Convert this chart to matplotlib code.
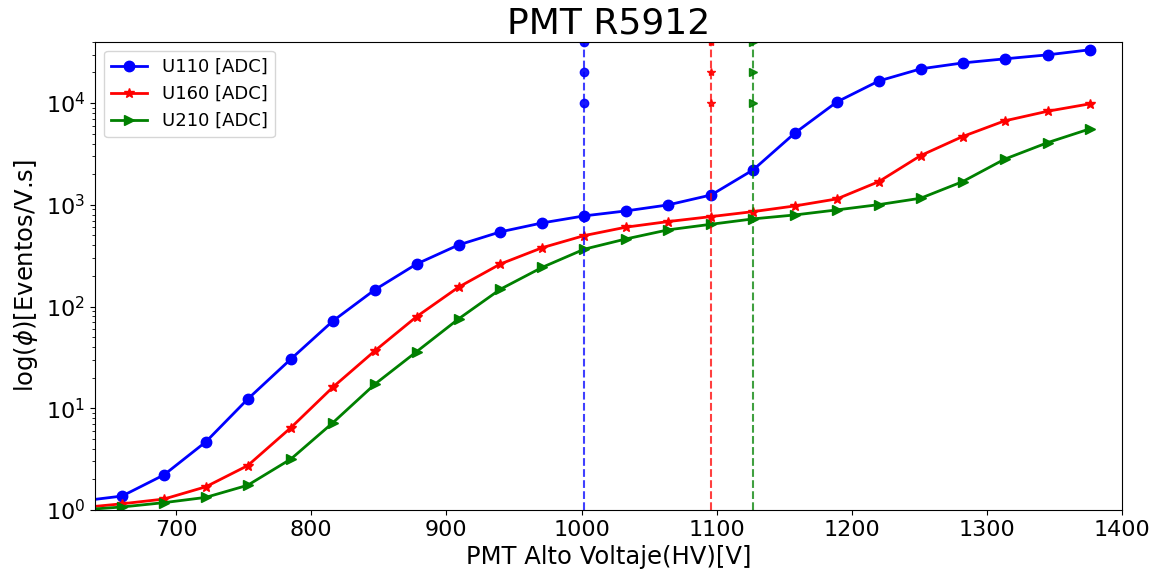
#plateau curves for the PMT R5912 at three thresholds
import matplotlib
matplotlib.use('Agg')
import matplotlib.pyplot as plt

# high voltage steps (first point sits just outside the x range)
hv = [629, 660, 691, 722, 753, 785, 816, 847, 878, 909, 940, 971, 1002,
      1033, 1064, 1096, 1127, 1158, 1189, 1220, 1251, 1282, 1313, 1345, 1376]

# rates for each threshold
u110 = [1.22, 1.37, 2.21, 4.67, 12.3, 30.5, 72, 146, 262, 403, 542, 664, 778,
        871, 997, 1250, 2205, 5090, 10270, 16500, 21700, 24800, 27200, 29800, 33400]
u160 = [1.05, 1.15, 1.28, 1.69, 2.73, 6.45, 16.1, 36.6, 79.6, 155, 262, 379, 498,
        603, 684, 766, 857, 975, 1143, 1690, 3050, 4690, 6680, 8320, 9820]
u210 = [1.0, 1.07, 1.18, 1.33, 1.75, 3.17, 7.2, 17.2, 36, 75.5, 148, 243, 366,
        462, 567, 644, 727, 795, 891, 1004, 1161, 1690, 2806, 4090, 5570]

labels = ['U110 [ADC]', 'U160 [ADC]', 'U210 [ADC]']

# chosen working points (vertical markers)
cut_hv = [1002, 1096, 1127]
cut_marks = [1e4, 2e4, 4e4]

colors = ['b', 'r', 'g']
markers = ['o', '*', '>']

fig = plt.figure(figsize=(11.64, 5.73), dpi=100)
ax = fig.add_axes([0.0816, 0.110, 0.8824, 0.817])

for series, lab, c, m in zip([u110, u160, u210], labels, colors, markers):
    ax.plot(hv, series, color=c, marker=m, markersize=7.5, linewidth=2, label=lab)

#dashed lines at the chosen voltages
for x, c, m in zip(cut_hv, colors, markers):
    ax.axvline(x, color=c, linestyle='--', linewidth=1.5, alpha=0.75)
    ax.plot([x] * len(cut_marks), cut_marks, color=c, marker=m, markersize=6,
            linestyle='none', alpha=0.9)

ax.set_yscale('log')
ax.set_xlim(640, 1400)
ax.set_ylim(1, 4e4)
ax.tick_params(axis='both', which='major', labelsize=16)
ax.set_xlabel('PMT Alto Voltaje(HV)[V]', fontsize=17.5)
ax.set_ylabel(r'log($\phi$)[Eventos/V.s]', fontsize=17.5)
ax.set_title('PMT R5912', fontsize=26)
ax.legend(loc='upper left', fontsize=13)

plt.savefig('out.png')
